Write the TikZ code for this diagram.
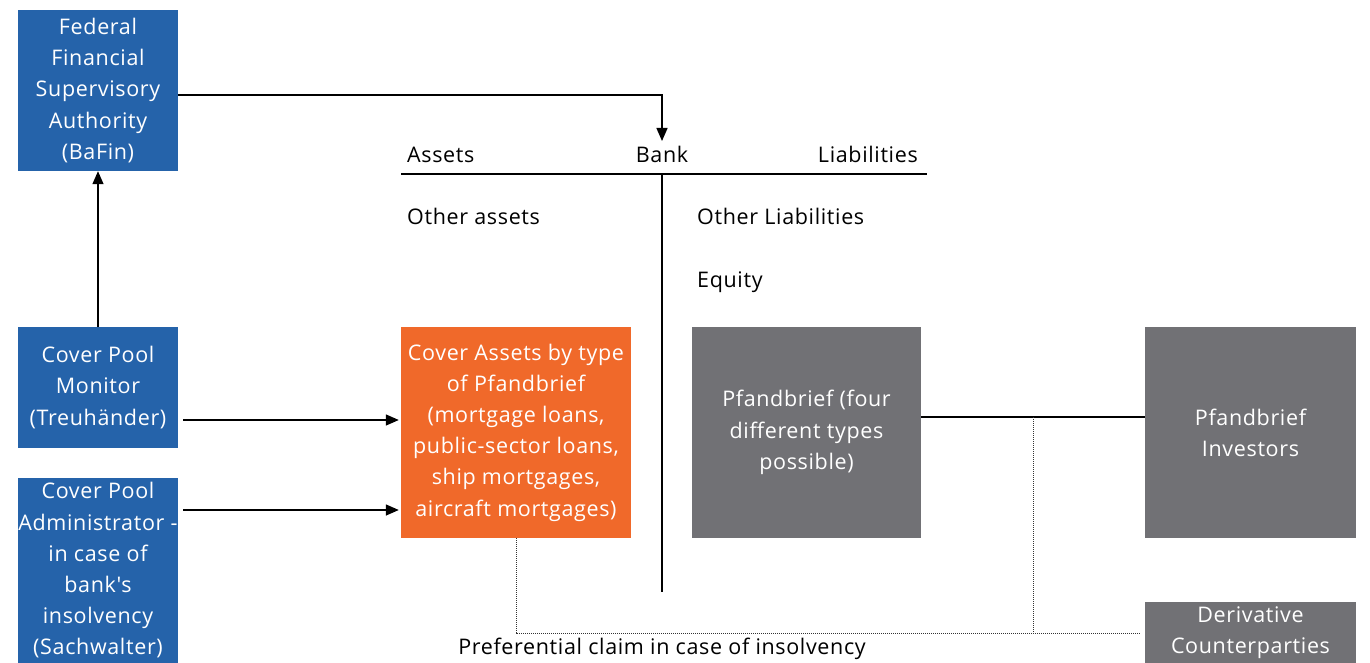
\documentclass[tikz,border=0pt]{standalone}
\usepackage{fontspec}
\setmainfont[LetterSpace=3]{Open Sans}
\newfontfamily\plainfont[LetterSpace=3]{Open Sans}
\usetikzlibrary{arrows.meta,calc}
\definecolor{bfblue}{RGB}{37,99,170}
\definecolor{bforange}{RGB}{240,105,42}
\definecolor{bfgray}{RGB}{113,113,117}
\tikzset{
  box/.style={fill=#1, draw=none, text=white, align=center, inner sep=0pt,
    font=\fontsize{21.5}{31.2}\selectfont},
  lbl/.style={inner sep=0pt, font=\fontsize{21.5}{31.2}\selectfont},
  conn/.style={line width=1.4pt, draw=black},
  arr/.style={conn, -{Triangle[length=13pt,width=11pt]}},
  dots/.style={line width=1pt, dash pattern=on 1pt off 1pt, draw=black!80}
}
\begin{document}
\begin{tikzpicture}[x=1pt,y=-1pt]
\useasboundingbox (0,0) rectangle (1370,663);
% boxes
\node[box=bfblue, minimum width=160, minimum height=161] (bafin) at (98,90.5)
  {Federal\\Financial\\Supervisory\\Authority\\(BaFin)};
\node[box=bfblue, minimum width=160, minimum height=121] (monitor) at (98,387.5)
  {Cover Pool\\Monitor\\(Treuhänder)};
\node[box=bfblue, minimum width=160, minimum height=185] (admin) at (98,570.5)
  {Cover Pool\\Administrator -\\in case of\\{\plainfont bank's}\\insolvency\\(Sachwalter)};
\node[box=bforange, minimum width=230, minimum height=211] (cover) at (516,432.5)
  {Cover Assets by type\\of Pfandbrief\\(mortgage loans,\\public-sector loans,\\ship mortgages,\\aircraft mortgages)};
\node[box=bfgray, minimum width=229, minimum height=211] (pfb) at (806.5,432.5)
  {Pfandbrief (four\\different types\\possible)};
\node[box=bfgray, minimum width=211, minimum height=211] (inv) at (1250.5,432.5)
  {Pfandbrief\\Investors};
\node[box=bfgray, minimum width=211, minimum height=61] (deriv) at (1250.5,632.5)
  {Derivative\\Counterparties};
% bank T-account
\node[lbl, anchor=base west] (assets) at (407,163) {Assets};
\node[lbl, anchor=base] (bank) at (662,163) {Bank};
\node[lbl, anchor=base east] (liab) at (918,163) {Liabilities};
\node[lbl, anchor=base west] (oassets) at (407,225) {Other assets};
\node[lbl, anchor=base west] (oliab) at (697,225) {Other Liabilities};
\node[lbl, anchor=base west] (equity) at (697,287) {Equity};
\node[lbl, anchor=base] (pref) at (662,654) {Preferential claim in case of insolvency};
\coordinate (tl) at (401,174);
\coordinate (tr) at (927,174);
\coordinate (tt) at (662,174);
\coordinate (tb) at (662,592);
\draw[conn] (tl) -- (tr);
\draw[conn] (tt) -- (tb);
% connectors
\coordinate (y95) at (0,95);
\coordinate (btip) at (662,141);
\draw[arr] (bafin.east |- y95) -| (btip);
\draw[arr] (monitor.north) -- (bafin.south);
\coordinate (y420) at (0,420);
\coordinate (y510) at (0,510);
\draw[arr] ($(monitor.east |- y420)+(5,0)$) -- ($(cover.west |- y420)+(-2,0)$);
\draw[arr] ($(admin.east |- y510)+(5,0)$) -- ($(cover.west |- y510)+(-2,0)$);
\coordinate (y417) at (0,417);
\draw[conn] (pfb.east |- y417) -- (inv.west |- y417);
\coordinate (j1) at (1033,417);
\coordinate (j2) at (1033,633);
\coordinate (dl) at (516,633);
\coordinate (dr) at (1140,633);
\draw[dots] (cover.south) -- (dl) -- (dr);
\draw[dots] (j1) -- (j2);
\end{tikzpicture}
\end{document}
